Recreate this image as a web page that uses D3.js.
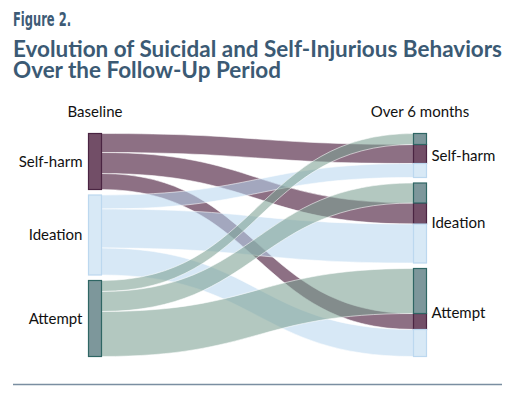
<!DOCTYPE html>
<html>
<head>
<meta charset="utf-8">
<script src="https://cdn.jsdelivr.net/npm/d3@7"></script>
<style>
  body { margin: 0; background: #fff; }
  .label { font-family: Lato, 'Open Sans', sans-serif; font-size: 15px; fill: #111; }
</style>
</head>
<body>
<div id="chart"></div>
<script>
// categories, in node order top -> bottom
var categories = ['Self-harm', 'Ideation', 'Attempt'];
var stages = ['Baseline', 'Over 6 months'];
// flows out of each baseline group, to [Self-harm, Ideation, Attempt] at 6 months
var fromSelfHarm = [19, 21, 16];
var fromIdeation = [14, 39, 27];
var fromAttempt = [11, 20, 45];
// order in which incoming flows are stacked on the right-hand nodes
var incomingOrder = ['Attempt', 'Self-harm', 'Ideation'];

var nodeFill = { 'Self-harm': '#724e67', 'Ideation': '#d8e9f6', 'Attempt': '#7d979b' };
var nodeStroke = { 'Self-harm': '#4a2442', 'Ideation': '#bcd8ef', 'Attempt': '#2f6664' };
var linkColor = { 'Self-harm': '#5c3350', 'Ideation': '#b7d6ee', 'Attempt': '#7ca192' };
var linkOpacity = { 'Self-harm': 0.7, 'Ideation': 0.55, 'Attempt': 0.58 };

var width = 515, height = 398;
var svg = d3.select('#chart').append('svg')
  .attr('width', width)
  .attr('height', height);

var flows = [fromSelfHarm, fromIdeation, fromAttempt];
var links = [];
flows.forEach((row, i) => {
  row.forEach((v, j) => links.push({ source: categories[i], target: categories[j], value: v }));
});

var total = d3.sum(links, d => d.value);
var pad = 5.5, yTop = 133.5, yBottom = 356.5, nodeW = 13;
var h = d3.scaleLinear().domain([0, total]).range([0, yBottom - yTop - pad * 2]);
var x = d3.scaleLinear().domain([0, 1]).range([88.5, 413.5]);

// node positions
function layout(getValue) {
  var y = yTop, out = {};
  categories.forEach(c => {
    var v = getValue(c);
    out[c] = { y0: y, y1: y + h(v) };
    y += h(v) + pad;
  });
  return out;
}
var left = layout(c => d3.sum(links.filter(l => l.source === c), l => l.value));
var right = layout(c => d3.sum(links.filter(l => l.target === c), l => l.value));

// stack link ends
categories.forEach(c => {
  var y = left[c].y0;
  categories.forEach(t => {
    var l = links.find(d => d.source === c && d.target === t);
    l.sy0 = y; y += h(l.value); l.sy1 = y;
  });
  y = right[c].y0;
  incomingOrder.forEach(s => {
    var l = links.find(d => d.source === s && d.target === c);
    l.ty0 = y; y += h(l.value); l.ty1 = y;
  });
});

function ribbon(d) {
  var x0 = x(0) + nodeW, x1 = x(1), xm = (x0 + x1) / 2;
  var p = d3.path();
  p.moveTo(x0, d.sy0);
  p.bezierCurveTo(xm, d.sy0, xm, d.ty0, x1, d.ty0);
  p.lineTo(x1, d.ty1);
  p.bezierCurveTo(xm, d.ty1, xm, d.sy1, x0, d.sy1);
  p.closePath();
  return p.toString();
}

svg.append('g').selectAll('.link')
  .data(links)
  .enter()
  .append('path')
  .attr('class', 'link')
  .attr('d', ribbon)
  .attr('fill', d => linkColor[d.source])
  .attr('fill-opacity', d => linkOpacity[d.source])
  .attr('stroke', '#fff')
  .attr('stroke-opacity', 0.8)
  .attr('stroke-width', 0.7);

// left nodes
svg.append('g').selectAll('rect')
  .data(categories)
  .enter()
  .append('rect')
  .attr('x', x(0))
  .attr('y', d => left[d].y0)
  .attr('width', nodeW)
  .attr('height', d => left[d].y1 - left[d].y0)
  .attr('fill', d => nodeFill[d])
  .attr('stroke', d => nodeStroke[d])
  .attr('stroke-width', 1.2);

// right nodes, split by where people came from
svg.append('g').selectAll('rect')
  .data(links)
  .enter()
  .append('rect')
  .attr('x', x(1))
  .attr('y', d => d.ty0)
  .attr('width', nodeW)
  .attr('height', d => d.ty1 - d.ty0)
  .attr('fill', d => nodeFill[d.source])
  .attr('stroke', d => nodeStroke[d.source])
  .attr('stroke-width', 1.2);

// node labels
svg.append('g').selectAll('text')
  .data(categories)
  .enter()
  .append('text')
  .attr('class', 'label')
  .attr('x', x(0) - 6)
  .attr('y', d => (left[d].y0 + left[d].y1) / 2)
  .attr('dy', '0.35em')
  .attr('text-anchor', 'end')
  .text(d => d);

svg.append('g').selectAll('text')
  .data(categories)
  .enter()
  .append('text')
  .attr('class', 'label')
  .attr('x', x(1) + nodeW + 5)
  .attr('y', d => (right[d].y0 + right[d].y1) / 2)
  .attr('dy', '0.35em')
  .text(d => d);

// stage headers
svg.selectAll('.stage')
  .data(stages)
  .enter()
  .append('text')
  .attr('class', 'label stage')
  .attr('x', (d, i) => i === 0 ? 95 : 420)
  .attr('y', 117)
  .attr('text-anchor', 'middle')
  .text(d => d);

// titles
svg.append('text')
  .attr('x', 13)
  .attr('y', 26)
  .attr('textLength', 58)
  .attr('lengthAdjust', 'spacingAndGlyphs')
  .style('font-family', "'Liberation Sans Narrow', 'DejaVu Sans Condensed', sans-serif")
  .style('font-size', '20px')
  .style('font-weight', 'bold')
  .style('fill', '#3d5b76')
  .text('Figure 2.');

svg.append('text')
  .attr('x', 13)
  .attr('y', 57)
  .attr('textLength', 489)
  .attr('lengthAdjust', 'spacingAndGlyphs')
  .style('font-family', 'Lato, sans-serif')
  .style('font-size', '22px')
  .style('font-weight', 'bold')
  .style('fill', '#3b5a74')
  .text('Evolution of Suicidal and Self-Injurious Behaviors');

svg.append('text')
  .attr('x', 13)
  .attr('y', 78)
  .attr('textLength', 268)
  .attr('lengthAdjust', 'spacingAndGlyphs')
  .style('font-family', 'Lato, sans-serif')
  .style('font-size', '22px')
  .style('font-weight', 'bold')
  .style('fill', '#3b5a74')
  .text('Over the Follow-Up Period');

// bottom rule
svg.append('line')
  .attr('x1', 13)
  .attr('x2', 502)
  .attr('y1', 384.5)
  .attr('y2', 384.5)
  .attr('stroke', '#7a8ea1')
  .attr('stroke-width', 1.5);
</script>
</body>
</html>
